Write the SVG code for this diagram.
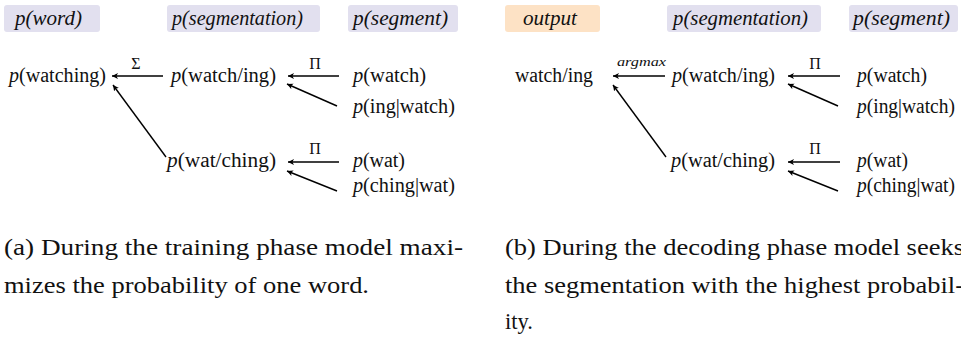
<svg xmlns="http://www.w3.org/2000/svg" width="961" height="337" viewBox="0 0 961 337">
  <style>
    .bg { fill: #ffffff; }
    .hdr { fill: #e2e0ef; }
    .out { fill: #fde2c5; }
    .t { font-family: "Liberation Serif", "DejaVu Serif", serif; font-size: 20px; fill: #111111; }
    .h { font-family: "Liberation Serif", "DejaVu Serif", serif; font-size: 20px; font-style: italic; fill: #111111; }
    .m { font-style: italic; }
    .op { font-family: "Liberation Serif", "DejaVu Serif", serif; font-size: 16px; fill: #111111; }
    .small { font-family: "Liberation Serif", "DejaVu Serif", serif; font-size: 13px; font-style: italic; fill: #111111; }
    .cap { font-family: "Liberation Serif", "DejaVu Serif", serif; font-size: 23px; fill: #111111; }
    .edge { stroke: #000000; stroke-width: 1.4; fill: none; marker-end: url(#head); }
  </style>
  <defs>
    <marker id="head" markerUnits="userSpaceOnUse" markerWidth="8" markerHeight="8" refX="6" refY="3" orient="auto">
      <path d="M0,0 L6,3 L0,6 L1.6,3 z" fill="#000000"/>
    </marker>
  </defs>
  <rect class="bg" x="0" y="0" width="961" height="337"/>

  <!-- panel (a): training -->
  <g id="a-hdr-word">
    <rect class="hdr" x="4" y="5" width="96" height="27" rx="3"/>
    <text class="h" x="15" y="25" textLength="67" lengthAdjust="spacingAndGlyphs">p(word)</text>
  </g>
  <g id="a-hdr-segmentation">
    <rect class="hdr" x="167" y="5" width="153" height="27" rx="3"/>
    <text class="h" x="172" y="25" textLength="131" lengthAdjust="spacingAndGlyphs">p(segmentation)</text>
  </g>
  <g id="a-hdr-segment">
    <rect class="hdr" x="348" y="5" width="110" height="27" rx="3"/>
    <text class="h" x="353" y="25" textLength="95" lengthAdjust="spacingAndGlyphs">p(segment)</text>
  </g>
  <g id="a-word">
    <text class="t" x="9" y="82" textLength="97" lengthAdjust="spacingAndGlyphs"><tspan class="m">p</tspan>(watching)</text>
  </g>
  <g id="a-seg1">
    <text class="t" x="171" y="82" textLength="105" lengthAdjust="spacingAndGlyphs"><tspan class="m">p</tspan>(watch/ing)</text>
  </g>
  <g id="a-seg2">
    <text class="t" x="167" y="167" textLength="109" lengthAdjust="spacingAndGlyphs"><tspan class="m">p</tspan>(wat/ching)</text>
  </g>
  <g id="a-watch">
    <text class="t" x="353" y="82" textLength="73" lengthAdjust="spacingAndGlyphs"><tspan class="m">p</tspan>(watch)</text>
  </g>
  <g id="a-ing">
    <text class="t" x="353" y="113" textLength="102" lengthAdjust="spacingAndGlyphs"><tspan class="m">p</tspan>(ing|watch)</text>
  </g>
  <g id="a-wat">
    <text class="t" x="353" y="167" textLength="52" lengthAdjust="spacingAndGlyphs"><tspan class="m">p</tspan>(wat)</text>
  </g>
  <g id="a-ching">
    <text class="t" x="353" y="192" textLength="102" lengthAdjust="spacingAndGlyphs"><tspan class="m">p</tspan>(ching|wat)</text>
  </g>

  <!-- panel (b): decoding -->
  <g id="b-hdr-output">
    <rect class="out" x="505" y="5" width="95" height="27" rx="3"/>
    <text class="h" x="523" y="25" textLength="54" lengthAdjust="spacingAndGlyphs">output</text>
  </g>
  <g id="b-hdr-segmentation">
    <rect class="hdr" x="667" y="5" width="154" height="27" rx="3"/>
    <text class="h" x="673" y="25" textLength="135" lengthAdjust="spacingAndGlyphs">p(segmentation)</text>
  </g>
  <g id="b-hdr-segment">
    <rect class="hdr" x="849" y="5" width="109" height="27" rx="3"/>
    <text class="h" x="853" y="25" textLength="97" lengthAdjust="spacingAndGlyphs">p(segment)</text>
  </g>
  <g id="b-output">
    <text class="t" x="515" y="82" textLength="78" lengthAdjust="spacingAndGlyphs">watch/ing</text>
  </g>
  <g id="b-seg1">
    <text class="t" x="672" y="82" textLength="103" lengthAdjust="spacingAndGlyphs"><tspan class="m">p</tspan>(watch/ing)</text>
  </g>
  <g id="b-seg2">
    <text class="t" x="671" y="167" textLength="104" lengthAdjust="spacingAndGlyphs"><tspan class="m">p</tspan>(wat/ching)</text>
  </g>
  <g id="b-watch">
    <text class="t" x="857" y="82" textLength="70" lengthAdjust="spacingAndGlyphs"><tspan class="m">p</tspan>(watch)</text>
  </g>
  <g id="b-ing">
    <text class="t" x="857" y="113" textLength="98" lengthAdjust="spacingAndGlyphs"><tspan class="m">p</tspan>(ing|watch)</text>
  </g>
  <g id="b-wat">
    <text class="t" x="857" y="167" textLength="51" lengthAdjust="spacingAndGlyphs"><tspan class="m">p</tspan>(wat)</text>
  </g>
  <g id="b-ching">
    <text class="t" x="857" y="192" textLength="98" lengthAdjust="spacingAndGlyphs"><tspan class="m">p</tspan>(ching|wat)</text>
  </g>

  <!-- connectors and their operator labels -->
  <g id="connectors">
    <line class="edge" x1="163" y1="76" x2="112" y2="76"/>
    <line class="edge" x1="339" y1="76" x2="288" y2="76"/>
    <line class="edge" x1="337" y1="106" x2="287" y2="84"/>
    <line class="edge" x1="166" y1="157" x2="113" y2="85"/>
    <line class="edge" x1="339" y1="162" x2="288" y2="162"/>
    <line class="edge" x1="337" y1="191" x2="287" y2="171"/>

    <line class="edge" x1="665" y1="76" x2="613" y2="76"/>
    <line class="edge" x1="840" y1="76" x2="788" y2="76"/>
    <line class="edge" x1="838" y1="106" x2="788" y2="84"/>
    <line class="edge" x1="666" y1="157" x2="613" y2="85"/>
    <line class="edge" x1="840" y1="162" x2="788" y2="162"/>
    <line class="edge" x1="838" y1="191" x2="788" y2="171"/>

    <text class="op" x="136" y="69" text-anchor="middle">Σ</text>
    <text class="op" x="315" y="69" text-anchor="middle">Π</text>
    <text class="op" x="315" y="154" text-anchor="middle">Π</text>
    <text class="small" x="617" y="66" textLength="49" lengthAdjust="spacingAndGlyphs">argmax</text>
    <text class="op" x="815" y="69" text-anchor="middle">Π</text>
    <text class="op" x="815" y="154" text-anchor="middle">Π</text>
  </g>

  <!-- sub-figure captions; the right column runs past the edge of the canvas -->
  <g id="captions">
    <text class="cap" x="4" y="255" textLength="459" lengthAdjust="spacingAndGlyphs">(a) During the training phase model maxi-</text>
    <text class="cap" x="4" y="293" textLength="365" lengthAdjust="spacingAndGlyphs">mizes the probability of one word.</text>
    <text class="cap" x="505" y="255" textLength="459" lengthAdjust="spacingAndGlyphs">(b) During the decoding phase model seeks</text>
    <text class="cap" x="505" y="293" textLength="459" lengthAdjust="spacingAndGlyphs">the segmentation with the highest probabil-</text>
    <text class="cap" x="505" y="329" textLength="28" lengthAdjust="spacingAndGlyphs">ity.</text>
  </g>
</svg>
